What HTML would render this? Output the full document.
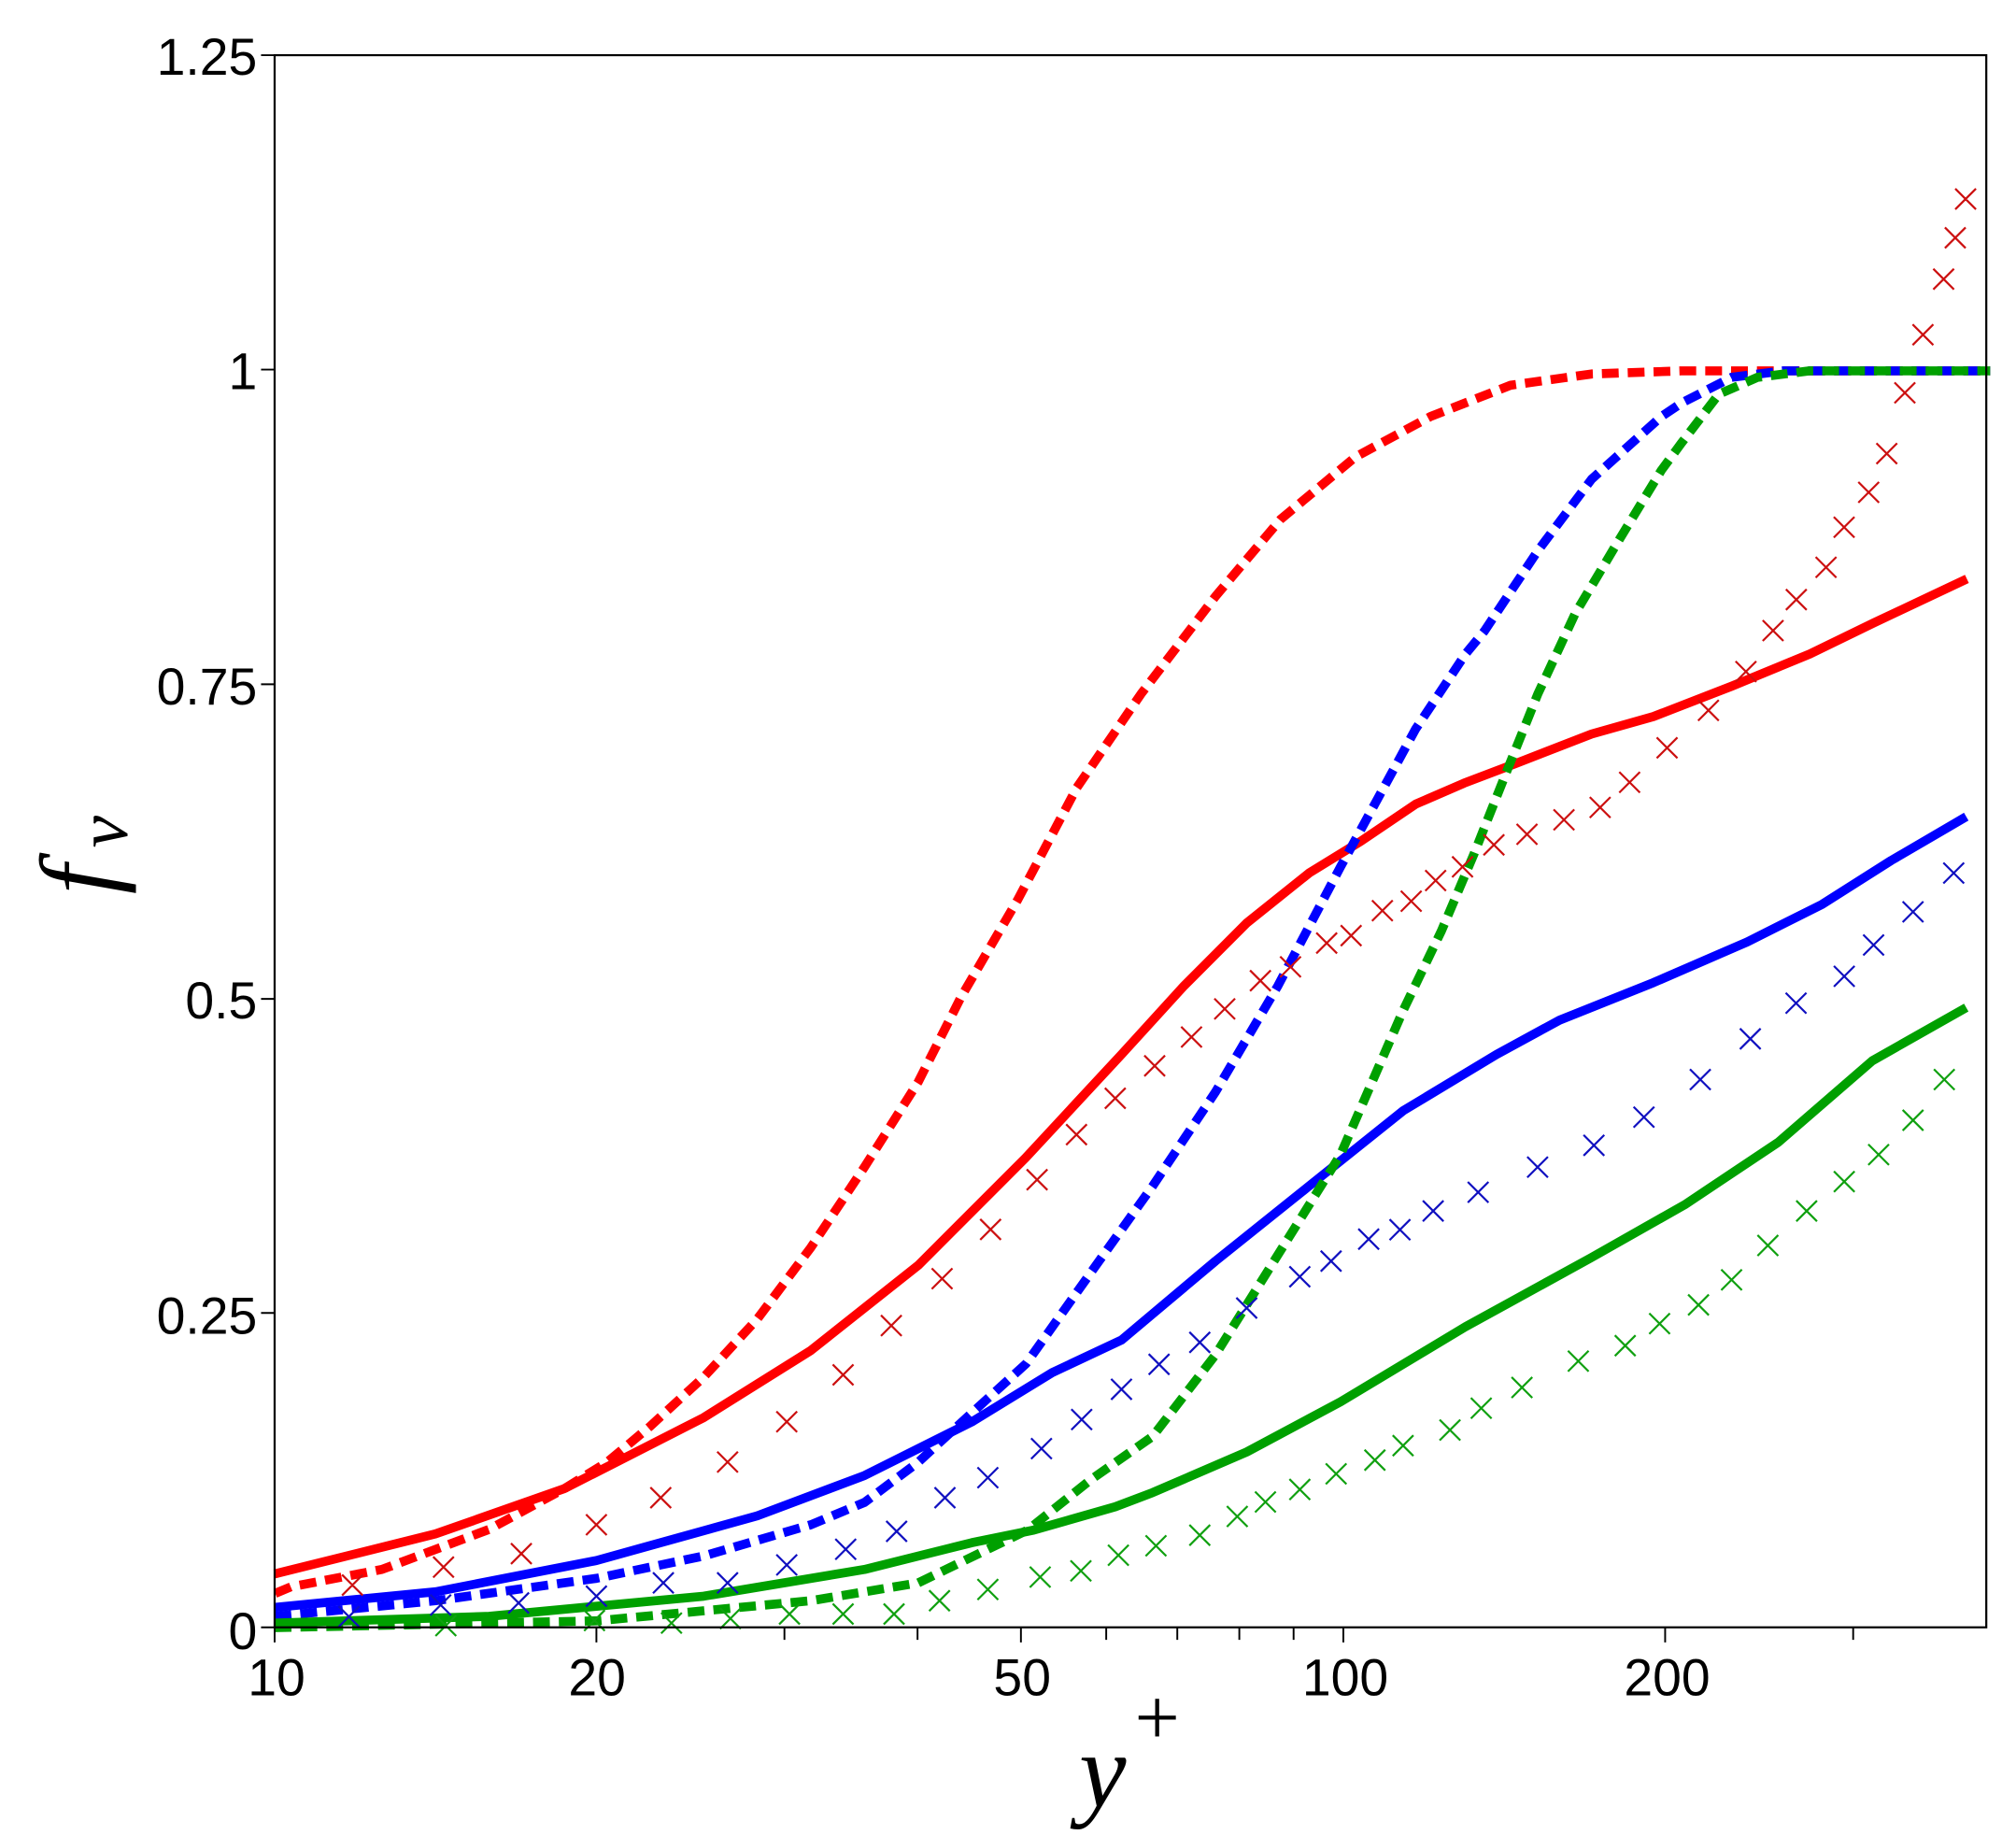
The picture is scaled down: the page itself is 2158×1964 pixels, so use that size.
<!DOCTYPE html>
<html><head><style>html,body{margin:0;padding:0;background:#fff}svg{display:block}</style></head>
<body>
<svg width="2158" height="1964" viewBox="0 0 1560 1420" preserveAspectRatio="none" xmlns="http://www.w3.org/2000/svg">
<rect width="1560" height="1420" fill="#fff"/>
<g fill="none" stroke-linejoin="round" stroke-linecap="butt">
<polyline stroke="#ff0000" stroke-width="7" stroke-dasharray="13,7" points="213,1233 225,1228 295.5,1214.5 378.5,1183.5 436.6,1152 469.8,1131.5 503,1103.8 544.5,1065.7 586,1020.7 627.5,965.3 669,903 710.5,837.3 743.7,771.5 787.6,696.1 833.2,609.6 883,536.9 941.1,460.8 990.9,401.9 1049,353.5 1107,322.3 1169,298.1 1231.6,289.4 1301,287 1540,287"/>
<polyline stroke="#ff0000" stroke-width="7" points="212.5,1218 337,1187 436.6,1152 544.5,1097 627.5,1045 710.7,979 793.6,896 867.8,816 916.3,762.8 964.7,714.3 1013,675.6 1053,651 1095.4,622.3 1133,606 1173,590.8 1231.6,568 1279.4,554.5 1340,531 1400.4,506.1 1450,482 1522,448"/>
<polyline stroke="#0000ff" stroke-width="7" stroke-dasharray="13,7" points="212.5,1250.8 337,1238.7 461.5,1221.4 544.5,1204.1 627.5,1179.9 669,1162.6 710.5,1131.5 752,1093.4 794,1055.3 843.6,985.5 892,917.7 940.5,845.1 988.9,762.8 1037.3,670.8 1066.4,617.5 1095.4,564.2 1134,506.1 1148.6,488.4 1190,426.2 1231.6,370.8 1285.6,322.3 1301,312 1340,292 1380,287 1540,287"/>
<polyline stroke="#0000ff" stroke-width="7" points="212.5,1243.9 337,1231.8 461.5,1207.6 586,1173 669,1141.8 752,1100.3 814.2,1062.2 867.8,1037 940.5,975.9 1013,917.8 1085.7,859.6 1158,816 1206.8,789.4 1279.4,760.4 1352,728.9 1410,699.8 1463.4,665.9 1521.5,632"/>
<polyline stroke="#00a000" stroke-width="7" stroke-dasharray="13,7" points="212.5,1259.5 461.5,1254.3 627.5,1238.7 710.5,1224.9 795.2,1184 843.6,1145.4 892,1111.5 940.5,1048.5 988.9,971 1037.3,893.5 1085.7,782.1 1115.4,720.3 1140.3,661.5 1165,599.2 1190,537 1219,474.6 1252,419.2 1285.6,363.9 1301,343 1330,305 1360,292 1400,287 1540,287"/>
<polyline stroke="#00a000" stroke-width="7" points="212.5,1256 378.5,1250.8 544.5,1235.2 669,1214.5 752,1193.8 800,1184 863,1166 892,1155 964.7,1123.6 1037.3,1084.8 1134,1026.7 1231,973.4 1303.6,932.3 1376.2,883.8 1448.8,820.9 1521.5,779.7"/>
</g>
<g fill="none" stroke-width="1.6">
<path stroke="#cc1010" d="M264.7,1218.6l16,16m0-16l-16,16M335.2,1204.7l16,16m0-16l-16,16M395.4,1194.3l16,16m0-16l-16,16M453.5,1171.9l16,16m0-16l-16,16M503.3,1151l16,16m0-16l-16,16M555,1123.4l16,16m0-16l-16,16M600.8,1092.2l16,16m0-16l-16,16M644.4,1055.9l16,16m0-16l-16,16M681.7,1017.8l16,16m0-16l-16,16M721,981.5l16,16m0-16l-16,16M758.5,943.4l16,16m0-16l-16,16M794.5,904.9l16,16m0-16l-16,16M825,870l16,16m0-16l-16,16M855,841.9l16,16m0-16l-16,16M885.5,816.8l16,16m0-16l-16,16M914,794.5l16,16m0-16l-16,16M939.7,772.7l16,16m0-16l-16,16M967.3,750.9l16,16m0-16l-16,16M990.6,740.2l16,16m0-16l-16,16M1018.6,721.8l16,16m0-16l-16,16M1037.5,716l16,16m0-16l-16,16M1061.7,696.7l16,16m0-16l-16,16M1084,689.4l16,16m0-16l-16,16M1102.9,673.4l16,16m0-16l-16,16M1123.7,662.8l16,16m0-16l-16,16M1148,645.8l16,16m0-16l-16,16M1173.6,637.6l16,16m0-16l-16,16M1202.2,626.4l16,16m0-16l-16,16M1230.2,616.8l16,16m0-16l-16,16M1253,597.4l16,16m0-16l-16,16M1282,570.7l16,16m0-16l-16,16M1314,541.7l16,16m0-16l-16,16M1343,511.7l16,16m0-16l-16,16M1364,480l16,16m0-16l-16,16M1382,456l16,16m0-16l-16,16M1405,431l16,16m0-16l-16,16M1419,400l16,16m0-16l-16,16M1438,373l16,16m0-16l-16,16M1452,343l16,16m0-16l-16,16M1466,296l16,16m0-16l-16,16M1480,251l16,16m0-16l-16,16M1496,208l16,16m0-16l-16,16M1505,176l16,16m0-16l-16,16M1513,146l16,16m0-16l-16,16"/>
<path stroke="#1010c0" d="M262,1243l16,16m0-16l-16,16M333,1234l16,16m0-16l-16,16M393.3,1232.4l16,16m0-16l-16,16M453.5,1227.2l16,16m0-16l-16,16M505.3,1216.9l16,16m0-16l-16,16M555,1216.9l16,16m0-16l-16,16M600.8,1203l16,16m0-16l-16,16M646.4,1190.9l16,16m0-16l-16,16M685.8,1177l16,16m0-16l-16,16M723.2,1151l16,16m0-16l-16,16M756.4,1135.5l16,16m0-16l-16,16M797.9,1113l16,16m0-16l-16,16M829,1090.5l16,16m0-16l-16,16M859.8,1067.1l16,16m0-16l-16,16M888.9,1047.8l16,16m0-16l-16,16M920.4,1030.8l16,16m0-16l-16,16M956.7,1004.2l16,16m0-16l-16,16M997.8,980l16,16m0-16l-16,16M1022,967.9l16,16m0-16l-16,16M1051.1,950.9l16,16m0-16l-16,16M1075.3,943.6l16,16m0-16l-16,16M1101,929.1l16,16m0-16l-16,16M1135.8,914.6l16,16m0-16l-16,16M1181.8,895.2l16,16m0-16l-16,16M1225.4,878.3l16,16m0-16l-16,16M1264.1,856.5l16,16m0-16l-16,16M1307.7,827.4l16,16m0-16l-16,16M1346.4,795.9l16,16m0-16l-16,16M1381.8,768.3l16,16m0-16l-16,16M1419.1,747.5l16,16m0-16l-16,16M1441.8,723.3l16,16m0-16l-16,16M1472.3,697.6l16,16m0-16l-16,16M1503.8,667.6l16,16m0-16l-16,16"/>
<path stroke="#10a010" d="M337,1250l16,16m0-16l-16,16M452,1246l16,16m0-16l-16,16M511.6,1248l16,16m0-16l-16,16M557.2,1244.5l16,16m0-16l-16,16M602.9,1241l16,16m0-16l-16,16M644.4,1241l16,16m0-16l-16,16M683.8,1241l16,16m0-16l-16,16M719,1230.7l16,16m0-16l-16,16M756.4,1222l16,16m0-16l-16,16M796.9,1212.4l16,16m0-16l-16,16M828.4,1207.6l16,16m0-16l-16,16M857.4,1195.5l16,16m0-16l-16,16M886.5,1188.2l16,16m0-16l-16,16M920.4,1180l16,16m0-16l-16,16M949.4,1165.5l16,16m0-16l-16,16M971.2,1154.3l16,16m0-16l-16,16M997.8,1144.6l16,16m0-16l-16,16M1025.9,1132.5l16,16m0-16l-16,16M1055.9,1121.9l16,16m0-16l-16,16M1077.7,1110.7l16,16m0-16l-16,16M1114,1098.6l16,16m0-16l-16,16M1138.2,1081.7l16,16m0-16l-16,16M1169.7,1065.7l16,16m0-16l-16,16M1213.3,1045.3l16,16m0-16l-16,16M1249.6,1033.3l16,16m0-16l-16,16M1276.2,1016.3l16,16m0-16l-16,16M1306.3,1001.8l16,16m0-16l-16,16M1331.9,982.4l16,16m0-16l-16,16M1360,955.8l16,16m0-16l-16,16M1390,929.1l16,16m0-16l-16,16M1419.1,906.4l16,16m0-16l-16,16M1445.7,885.5l16,16m0-16l-16,16M1472.3,858.9l16,16m0-16l-16,16M1496.5,827.4l16,16m0-16l-16,16"/>
</g>
<rect x="212.5" y="42.7" width="1324.5" height="1216.6" fill="none" stroke="#000" stroke-width="1.6"/>
<g stroke="#000" stroke-width="1.4">
<path d="M202,42.7h10M202,286h10M202,529.5h10M202,773h10M202,1016h10M202,1259.3h10"/>
<path d="M212.5,1259v12M461.5,1259v12M607,1259v10M710,1259v10M790,1259v12M856,1259v10M911,1259v10M959,1259v10M1001,1259v10M1039.5,1259v12M1288.5,1259v12M1434,1259v10"/>
</g>
<g font-family="Liberation Sans, sans-serif" font-size="40" fill="#000" text-anchor="end">
<text x="199" y="58">1.25</text>
<text x="199" y="301">1</text>
<text x="199" y="545">0.75</text>
<text x="199" y="788">0.5</text>
<text x="199" y="1032">0.25</text>
<text x="199" y="1276">0</text>
</g>
<g font-family="Liberation Sans, sans-serif" font-size="40" fill="#000" text-anchor="middle">
<text x="214" y="1312">10</text>
<text x="462" y="1312">20</text>
<text x="791" y="1312">50</text>
<text x="1041" y="1312">100</text>
<text x="1290" y="1312">200</text>
</g>
<text x="835" y="1398" font-family="Liberation Serif, serif" font-style="italic" font-size="82">y</text>
<text x="878" y="1350" font-family="Liberation Serif, serif" font-size="62">+</text>
<g transform="translate(88,660) rotate(-90)" font-family="Liberation Serif, serif" font-style="italic">
<text x="-32" y="0" font-size="82">f</text>
<text x="4" y="10" font-size="56">ν</text>
</g>
</svg>
</body></html>
